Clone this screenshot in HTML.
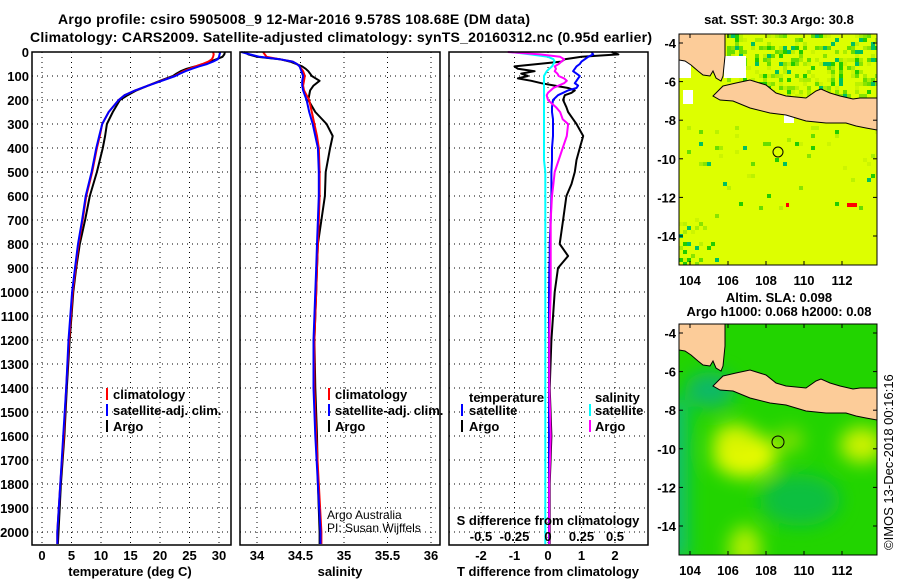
<!DOCTYPE html>
<html><head><meta charset="utf-8"><style>
html,body{margin:0;padding:0;background:#fff}
svg{display:block;font-family:"Liberation Sans",Arial,sans-serif}
.b{font-weight:bold;font-size:13px}
.t{font-weight:bold;font-size:14px}
</style></head><body>
<svg id="fig" width="900" height="580" viewBox="0 0 900 580" xmlns="http://www.w3.org/2000/svg">
<rect width="900" height="580" fill="#fff"/>
<text class="t" x="58" y="24" textLength="472">Argo profile: csiro 5905008_9 12-Mar-2016 9.578S 108.68E (DM data)</text>
<text class="t" x="30" y="42" textLength="622">Climatology: CARS2009. Satellite-adjusted climatology: synTS_20160312.nc (0.95d earlier)</text>
<g id="grid"></g>
<g id="series"></g>
<g id="axes"></g>
<g class="b">
<rect x="106" y="388" width="2" height="12" fill="#f00"/><text x="113" y="399">climatology</text>
<rect x="106" y="404" width="2" height="12" fill="#00f"/><text x="113" y="415">satellite-adj. clim.</text>
<rect x="106" y="420" width="2" height="12" fill="#000"/><text x="113" y="431">Argo</text>
</g>
<g class="b">
<rect x="328" y="388" width="2" height="12" fill="#f00"/><text x="335" y="399">climatology</text>
<rect x="328" y="404" width="2" height="12" fill="#00f"/><text x="335" y="415">satellite-adj. clim.</text>
<rect x="328" y="420" width="2" height="12" fill="#000"/><text x="335" y="431">Argo</text>
</g>
<g class="b">
<text x="469" y="402">temperature</text>
<rect x="461" y="404" width="2" height="12" fill="#00f"/><text x="469" y="415">satellite</text>
<rect x="461" y="420" width="2" height="12" fill="#000"/><text x="469" y="431">Argo</text>
<text x="595" y="402">salinity</text>
<rect x="589" y="404" width="2" height="12" fill="#0ff"/><text x="595" y="415">satellite</text>
<rect x="589" y="420" width="2" height="12" fill="#f0f"/><text x="595" y="431">Argo</text>
</g>
<text x="327" y="519" font-size="12">Argo Australia</text>
<text x="327" y="532" font-size="12">PI: Susan Wijffels</text>
<text class="b" x="548" y="525" text-anchor="middle">S difference from climatology</text>
<text class="b" x="130" y="576" text-anchor="middle">temperature (deg C)</text>
<text class="b" x="340" y="576" text-anchor="middle">salinity</text>
<text class="b" x="548" y="576" text-anchor="middle">T difference from climatology</text>

<defs>
<clipPath id="mc1"><rect x="679" y="34" width="198" height="231"/></clipPath>
<clipPath id="mc2"><rect x="679" y="324" width="198" height="231"/></clipPath>
<filter id="blr"><feGaussianBlur stdDeviation="9"/></filter>
<g id="land">
<polygon fill="#fccc99" stroke="#000" stroke-width="1" points="0,0 46,0 46,22 44,42 42,47 37,44 34,37 31,42 24,41 19,37 12,31 6,27 0,26"/>
<polygon fill="#fccc99" stroke="#000" stroke-width="1" points="44,52 57,49 71,46 87,51 97,59 107,62 127,64 137,57 142,55 151,59 161,62 174,65 181,64 198,64 198,96 187,94 177,92 167,89 147,89 127,87 107,81 91,79 71,74 54,67 41,66 34,62"/>
</g>
</defs>
<text class="b" x="779" y="24" text-anchor="middle">sat. SST: 30.3 Argo: 30.8</text>
<g clip-path="url(#mc1)">
<rect x="679" y="34" width="198" height="231" fill="#ddff00"/>
<g id="sstcells" transform="translate(679,34)"></g>
<rect x="724" y="56" width="22" height="22" fill="#fff"/>
<rect x="679" y="54" width="12" height="24" fill="#fff"/>
<rect x="683" y="90" width="10" height="14" fill="#fff"/>
<rect x="784" y="113" width="10" height="10" fill="#fff"/>
<g transform="translate(679,34)"><use href="#land"/></g>
<circle cx="778" cy="152" r="5" fill="none" stroke="#000"/>
<rect x="786" y="203" width="3" height="4" fill="#f00"/><rect x="847" y="203" width="10" height="4" fill="#f00"/>
</g>
<rect x="679" y="34" width="198" height="231" fill="none" stroke="#000"/>
<text class="b" x="779" y="302" text-anchor="middle">Altim. SLA: 0.098</text>
<text class="b" x="779" y="316" text-anchor="middle">Argo h1000: 0.068 h2000: 0.08</text>
<g clip-path="url(#mc2)">
<rect x="679" y="324" width="198" height="231" fill="#22d400"/>
<g filter="url(#blr)">
<rect x="660" y="400" width="28" height="160" fill="#10c070"/>
<ellipse cx="710" cy="390" rx="25" ry="18" fill="#10b868"/>
<ellipse cx="745" cy="455" rx="32" ry="22" fill="#e8fa00"/>
<ellipse cx="735" cy="440" rx="22" ry="16" fill="#d8f400"/>
<ellipse cx="862" cy="445" rx="22" ry="18" fill="#ccf200"/>
<ellipse cx="745" cy="548" rx="16" ry="22" fill="#b0ee00"/>
<ellipse cx="800" cy="500" rx="40" ry="26" fill="#10c040"/>
<ellipse cx="790" cy="440" rx="14" ry="12" fill="#80e000"/>
</g>
<g transform="translate(679,324)"><use href="#land"/></g>
<circle cx="778" cy="442" r="6" fill="none" stroke="#000"/>
</g>
<rect x="679" y="324" width="198" height="231" fill="none" stroke="#000"/>
<g id="mapaxes" class="b"></g>
<text x="893" y="550" font-size="13" transform="rotate(-90 893 550)">©IMOS 13-Dec-2018 00:16:16</text>
</svg>
<script>
// ---- data ----
const depthProf = [0,10,20,30,40,50,60,70,80,90,100,120,140,160,180,200,250,300,350,400,500,600,700,800,900,1000,1200,1400,1600,1800,2000,2050];
const tempArgo = [31,30.9,30.6,29.6,28.5,27.3,26,24.5,23.5,22.8,22.2,20,18,16,14.5,13.2,12,11,10.7,10.3,9.3,8.1,7.3,6.4,5.8,5.3,4.7,4.2,3.8,3.2,2.8,2.7];
const tempClim = [29,29.1,29,28.8,28.2,27.2,26,25,24,23.2,22.5,20.2,18,15.8,14,13,11.3,10.2,9.8,9.3,8.5,7.5,6.9,6.2,5.7,5.2,4.6,4.1,3.7,3.1,2.6,2.6];
const tempSat = [30.2,30.1,30,29.8,29,28,26.6,25.4,24.3,23.4,22.6,20.3,18,15.8,14,13,11.3,10.2,9.7,9.2,8.4,7.4,6.8,6.1,5.6,5.1,4.5,4.1,3.6,3.1,2.6,2.6];
const salArgo = [33.85,33.9,34.0,34.26,34.38,34.45,34.52,34.56,34.59,34.61,34.63,34.72,34.65,34.61,34.6,34.59,34.67,34.8,34.87,34.84,34.79,34.78,34.74,34.7,34.69,34.68,34.66,34.67,34.69,34.7,34.72,34.72];
const salClim = [34.07,34.09,34.11,34.26,34.41,34.46,34.49,34.51,34.53,34.54,34.55,34.54,34.53,34.54,34.57,34.6,34.63,34.66,34.69,34.71,34.72,34.72,34.71,34.7,34.69,34.68,34.66,34.66,34.68,34.71,34.74,34.74];
const salSat = [33.82,33.92,34.03,34.26,34.41,34.46,34.49,34.5,34.51,34.52,34.53,34.52,34.52,34.53,34.55,34.57,34.6,34.64,34.67,34.7,34.71,34.71,34.7,34.69,34.68,34.67,34.65,34.65,34.67,34.7,34.73,34.73];
const depthDiff = [0,10,20,30,40,50,60,70,80,90,100,110,120,130,140,150,160,170,180,200,230,250,280,300,350,400,450,500,550,600,700,800,850,900,1000,1200,1400,1600,1800,2000,2050];
const tDiffArgo = [1.9,2.1,1.0,0.5,0.4,-0.3,-1.0,-0.9,-0.4,-0.8,-0.6,-0.9,-0.5,-0.2,0.2,0.6,0.8,0.7,0.5,0.45,0.55,0.6,0.75,0.85,1.05,0.95,0.85,0.8,0.7,0.55,0.45,0.35,0.6,0.3,0.2,0.1,0.05,0.1,0.05,0.05,0.05];
const tDiffSat = [1.3,1.35,1.2,1.1,1.0,0.95,0.85,0.8,0.75,0.85,0.95,0.9,0.85,0.8,0.9,0.85,0.6,0.45,0.3,0.15,0.12,0.12,0.15,0.15,0.15,0.12,0.12,0.1,0.1,0.1,0.08,0.05,0.05,0.04,0.03,0.03,0.03,0.03,0.03,0.03,0.03];
const sDiffArgo = [-0.3,-0.06,0.09,0.12,0.1,0.08,0.05,0.06,0.05,0.07,0.08,0.12,0.14,0.12,0.08,0.04,0.02,0.0,-0.01,0.0,0.06,0.09,0.11,0.15,0.14,0.11,0.08,0.05,0.04,0.03,0.02,0.02,0.02,0.02,0.02,0.01,0.01,0.02,0.01,0.01,0.01];
const sDiffSat = [-0.28,-0.13,0.0,0.04,0.05,0.04,0.03,0.01,-0.01,-0.02,-0.03,-0.03,-0.03,-0.03,-0.03,-0.03,-0.03,-0.03,-0.03,-0.03,-0.03,-0.03,-0.03,-0.03,-0.03,-0.03,-0.03,-0.02,-0.02,-0.02,-0.02,-0.02,-0.02,-0.02,-0.02,-0.02,-0.02,-0.02,-0.02,-0.02,-0.02];
const depthTicks = [0,100,200,300,400,500,600,700,800,900,1000,1100,1200,1300,1400,1500,1600,1700,1800,1900,2000];
const tempTicks = [0,5,10,15,20,25,30];
const salTicks = [34,34.5,35,35.5,36];
const tDiffTicks = [-2,-1,0,1,2];
const sDiffTicks = [-0.5,-0.25,0,0.25,0.5];
const lonTicks = [104,106,108,110,112];
const latTicks = [-4,-6,-8,-10,-12,-14];

// ---- scales ----
const PT=52, PB=545;
const yD = d => PT + 0.24*d;
const xT = t => 42 + t*5.9;
const xS = s => 257 + (s-34)*87;
const xTd = v => 548 + v*33.5;
const xSd = v => 548 + v*134;
const panels = [{x0:32,x1:231,name:'temperature-panel'},{x0:240,x1:440,name:'salinity-panel'},{x0:449,x1:648,name:'difference-panel'}];
const NS='http://www.w3.org/2000/svg';
function mk(tag, attrs, parent){const e=document.createElementNS(NS,tag);for(const k in attrs)e.setAttribute(k,attrs[k]);parent.appendChild(e);return e;}
const grid=document.getElementById('grid'), axes=document.getElementById('axes'), ser=document.getElementById('series');

panels.forEach(p=>{
  depthTicks.forEach(d=>{
    const l=mk('line',{x1:p.x0,x2:p.x1,y1:yD(d),y2:yD(d),stroke:'#000','stroke-dasharray':'1,4'},grid);
    
    
  });
  const r=mk('rect',{x:p.x0,y:PT,width:p.x1-p.x0,height:PB-PT,fill:'none',stroke:'#000','stroke-width':1.5},axes);
  
  
});
function vgrid(ticks,fx,labY){
  ticks.forEach(v=>{
    const l=mk('line',{x1:fx(v),x2:fx(v),y1:PT,y2:PB,stroke:'#000','stroke-dasharray':'1,4'},grid);
    
    
    const t=mk('text',{x:fx(v),y:labY,'text-anchor':'middle',class:'b'},axes);
    t.textContent=String(v);
    
    
  });
}
vgrid(tempTicks,xT,560);
vgrid(salTicks,xS,560);
vgrid(tDiffTicks,xTd,560);
sDiffTicks.forEach(v=>{
  const t=mk('text',{x:xSd(v),y:541,'text-anchor':'middle',class:'b'},axes);
  t.textContent=String(v);
  
  
});
depthTicks.forEach(d=>{
  const t=mk('text',{x:29,y:yD(d)+5,'text-anchor':'end',class:'b'},axes);
  t.textContent=String(d);
  
  
});
function line(depths,vals,fx,color,name){
  const pts=vals.map((v,i)=>fx(v).toFixed(1)+','+yD(depths[i]).toFixed(1)).join(' ');
  const pl=mk('polyline',{points:pts,fill:'none',stroke:color,'stroke-width':2,'stroke-linejoin':'round'},ser);
  
  
}
line(depthProf,tempArgo,xT,'#000','temp-argo-line');
line(depthProf,tempClim,xT,'#f00','temp-climatology-line');
line(depthProf,tempSat,xT,'#00f','temp-satellite-line');
line(depthProf,salArgo,xS,'#000','sal-argo-line');
line(depthProf,salClim,xS,'#f00','sal-climatology-line');
line(depthProf,salSat,xS,'#00f','sal-satellite-line');
line(depthDiff,tDiffArgo,xTd,'#000','tdiff-argo-line');
line(depthDiff,tDiffSat,xTd,'#00f','tdiff-satellite-line');
line(depthDiff,sDiffSat,xSd,'#0ff','sdiff-satellite-line');
line(depthDiff,sDiffArgo,xSd,'#f0f','sdiff-argo-line');

// map axes
const ma=document.getElementById('mapaxes');
const lonX = lon => 690 + (lon-104)*19;
[[34,43,265],[324,333,555]].forEach(([top,lat4,bot])=>{
  lonTicks.forEach(lon=>{
    const t=mk('text',{x:lonX(lon),y:bot+20,'text-anchor':'middle'},ma);
    t.textContent=String(lon);
    
    
    mk('line',{x1:lonX(lon),x2:lonX(lon),y1:bot,y2:bot-4,stroke:'#000'},ma);
    mk('line',{x1:lonX(lon),x2:lonX(lon),y1:top,y2:top+4,stroke:'#000'},ma);
  });
  latTicks.forEach(lat=>{
    const y=lat4+(-4-lat)*19.3;
    const t=mk('text',{x:676,y:y+5,'text-anchor':'end'},ma);
    t.textContent=String(lat);
    
    
    mk('line',{x1:679,x2:683,y1:y,y2:y,stroke:'#000'},ma);
    mk('line',{x1:877,x2:873,y1:y,y2:y,stroke:'#000'},ma);
  });
});
// SST texture cells (decorative)
const sc=document.getElementById('sstcells');
const greens=['#22cc00','#66dd00','#aaee00','#bbf200','#00c060','#88e400','#ccf500'];
for(let i=0;i<50;i++)for(let j=0;j<58;j++){
  const h=((i*73856093)^(j*19349663))>>>0; const r=(h%1000)/1000;
  const x=i*4,y=j*4;
  let p=0;
  if(y<62&&x>44) p=0.45;
  if(x<40&&y>150) p=Math.max(0,0.45-(x/90));
  if(y>90&&y<130) p=0.06;
  if(y>=130&&y<180) p=0.03;
  if(r<p){ mk('rect',{x:x,y:y,width:4,height:4,fill:greens[h%7]},sc); }
}
</script>
</body></html>
